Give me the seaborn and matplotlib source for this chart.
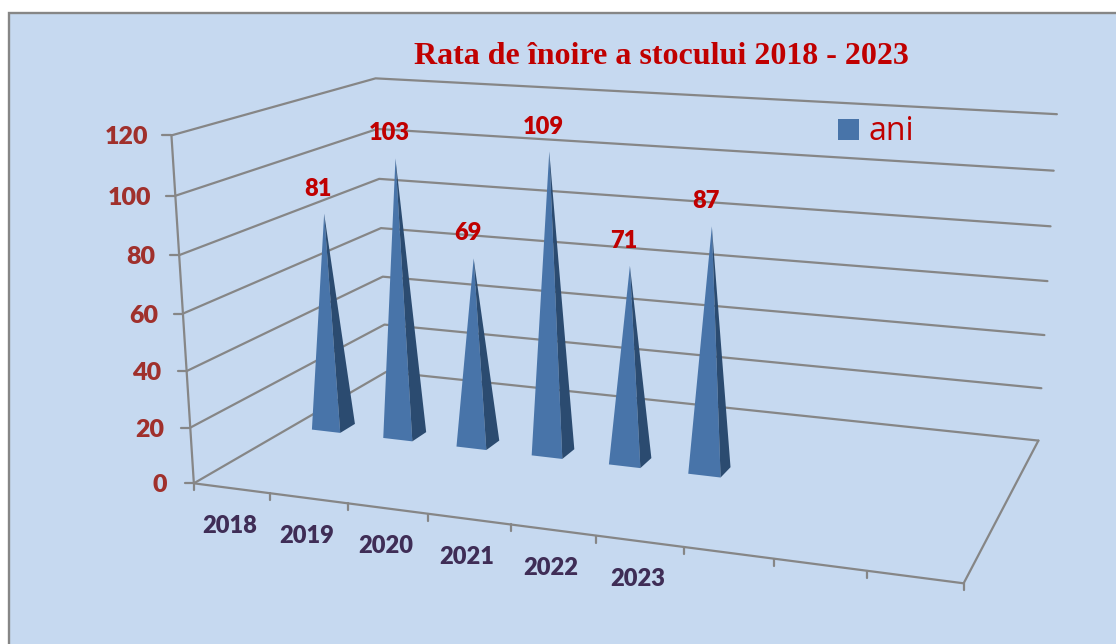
import numpy as np
import pandas as pd
import matplotlib
matplotlib.use("Agg")
import matplotlib.pyplot as plt
from matplotlib.patches import Rectangle
import seaborn as sns

title = "Rata de înoire a stocului 2018 - 2023"
series_name = "ani"
years = ["2018", "2019", "2020", "2021", "2022", "2023"]
values = [81, 103, 69, 109, 71, 87]
value_ticks = [0, 20, 40, 60, 80, 100, 120]
n_slots = 9  # the chart has 9 category slots, only 6 are filled

PANEL = "#c6d9f0"
GRID = "#868686"
LIGHT = "#4874a9"
DARK = "#2b4b70"
RED = "#c00000"


def fit_camera():
    # (category, depth, value) -> pixel, fitted on the corners of the box
    world = [(0, 0, 0), (0, 0, 120), (0, 1, 0), (0, 1, 120),
             (9, 1, 0), (9, 1, 120), (9, 0, 0)]
    pix = [(193, 483), (172, 136), (387, 372), (375, 78),
           (1038, 441), (1057, 114), (964, 583)]
    rows = []
    for (c, d, v), (px, py) in zip(world, pix):
        c, v = c / 9, v / 120
        px, py = px / 1000, py / 1000
        rows.append([c, d, v, 1, 0, 0, 0, 0, -px*c, -px*d, -px*v, -px])
        rows.append([0, 0, 0, 0, c, d, v, 1, -py*c, -py*d, -py*v, -py])
    _, _, vt = np.linalg.svd(np.array(rows))
    return vt[-1].reshape(3, 4)


cam = fit_camera()


def project(c, d, v):
    p = cam @ np.array([c / 9, d, v / 120, 1])
    return p[0] / p[2] * 1000, p[1] / p[2] * 1000


sns.set_theme(style="white")
plt.rcParams["font.family"] = ["Lato", "DejaVu Sans"]

fig = plt.figure(figsize=(11.16, 6.44), dpi=100, facecolor="white")
ax = fig.add_axes([0, 0, 1, 1])
ax.set_xlim(0, 1116)
ax.set_ylim(644, 0)
ax.axis("off")

ax.add_patch(Rectangle((9, 13), 1120, 640, facecolor=PANEL, edgecolor=GRID, lw=1.7, zorder=0))

# box lines: gridlines on both walls, floor edges, axis and ticks
segments = []
for v in value_ticks:
    segments.append([(0, 0, v), (0, 1, v), (n_slots, 1, v)])
segments.append([(0, 0, 0), (0, 0, 120)])
segments.append([(0, 0, 0), (n_slots, 0, 0), (n_slots, 1, 0)])
rows = []
for i, seg in enumerate(segments):
    for c, d, v in seg:
        x, y = project(c, d, v)
        rows.append({"x": x, "y": y, "line": i})
for v in value_ticks:
    x, y = project(0, 0, v)
    rows.append({"x": x, "y": y, "line": 100 + v})
    rows.append({"x": x - 9, "y": y, "line": 100 + v})
for c in range(n_slots + 1):
    x, y = project(c, 0, 0)
    rows.append({"x": x, "y": y, "line": 300 + c})
    rows.append({"x": x, "y": y + 7, "line": 300 + c})
lines = pd.DataFrame(rows)
sns.lineplot(data=lines, x="x", y="y", units="line", estimator=None, sort=False,
             color=GRID, lw=1.6, ax=ax, legend=False, zorder=1)
ax.set_xlim(0, 1116)
ax.set_ylim(644, 0)

half_w = 0.2
half_d = 0.04
for i, val in enumerate(values):
    c = i + 0.5
    apex = project(c, 0.5, val)
    fl = project(c - half_w, 0.5 - half_d, 0)
    fr = project(c + half_w, 0.5 - half_d, 0)
    br = project(c + half_w, 0.5 + half_d, 0)
    ax.fill(*zip(fl, fr, apex), color=LIGHT, lw=0, zorder=3)
    ax.fill(*zip(fr, br, apex), color=DARK, lw=0, zorder=3)
    ax.text(apex[0] - 6, apex[1] - 25, str(val), color=RED, fontsize=17, fontweight=800,
            ha="center", va="center", zorder=4)
    x, y = project(c, 0, 0)
    ax.text(x - 2, y + 38, years[i], color="#3f2d56", fontsize=17, fontweight=800,
            ha="center", va="center", zorder=4)

for v in value_ticks:
    x, y = project(0, 0, v)
    ax.text(x - 27 + v * 4 / 120, y + 2, str(v), color="#a0302c", fontsize=18, fontweight=800,
            ha="right", va="center", zorder=4)

ax.text(661, 56, title, color=RED, fontsize=23, fontweight="bold",
        family="Liberation Serif", ha="center", va="center", zorder=4)

ax.add_patch(Rectangle((838, 119), 21, 21, facecolor=LIGHT, edgecolor="none", zorder=4))
ax.text(869, 131, series_name, color=RED, fontsize=23, family="Open Sans",
        ha="left", va="center", zorder=4)

fig.savefig("out.png", dpi=100)
